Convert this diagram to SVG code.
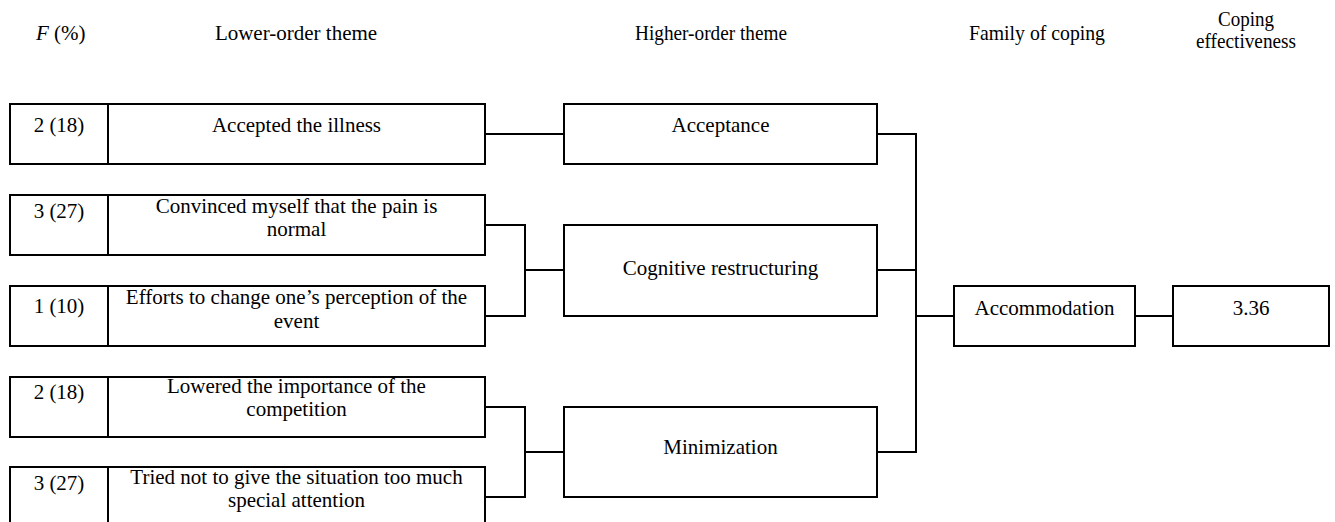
<svg xmlns="http://www.w3.org/2000/svg" width="1335" height="522" viewBox="0 0 1335 522">
<style>
text{font-family:"Liberation Serif","Times New Roman",serif;font-size:21px;fill:#000;text-anchor:middle}
.hd{font-size:21px}
.box{fill:#fff;stroke:#000;stroke-width:2}
.ln{fill:none;stroke:#000;stroke-width:2}
</style>
<rect width="1335" height="522" fill="#fff"/>
<g id="headers">
<text x="36" y="40" style="text-anchor:start"><tspan font-style="italic">F</tspan> (%)</text>
<text x="296" y="40">Lower-order theme</text>
<text x="711" y="40" textLength="152" lengthAdjust="spacingAndGlyphs">Higher-order theme</text>
<text x="1037" y="40" textLength="136" lengthAdjust="spacingAndGlyphs">Family of coping</text>
<text x="1246" y="26" textLength="56" lengthAdjust="spacingAndGlyphs">Coping</text>
<text x="1246" y="48" textLength="100" lengthAdjust="spacingAndGlyphs">effectiveness</text>
</g>
<g id="connectors">
<path class="ln" d="M485,134H564"/>
<path class="ln" d="M485,225H525V316H485M525,270H564"/>
<path class="ln" d="M485,407H525V497H485M525,452H564"/>
<path class="ln" d="M877,134H916V452H877M877,270H916M916,316H954"/>
<path class="ln" d="M1135,316H1173"/>
</g>
<g id="lo1">
<rect class="box" x="10" y="104" width="475" height="60"/>
<line class="ln" x1="108" y1="104" x2="108" y2="164"/>
<text x="59" y="132">2 (18)</text>
<text x="296.5" y="132">Accepted the illness</text>
</g>
<g id="lo2">
<rect class="box" x="10" y="195" width="475" height="60"/>
<line class="ln" x1="108" y1="195" x2="108" y2="255"/>
<text x="59" y="218">3 (27)</text>
<text x="296.5" y="213">Convinced myself that the pain is</text>
<text x="296.5" y="236">normal</text>
</g>
<g id="lo3">
<rect class="box" x="10" y="286" width="475" height="60"/>
<line class="ln" x1="108" y1="286" x2="108" y2="346"/>
<text x="59" y="313">1 (10)</text>
<text x="296.5" y="304">Efforts to change one’s perception of the</text>
<text x="296.5" y="328">event</text>
</g>
<g id="lo4">
<rect class="box" x="10" y="377" width="475" height="60"/>
<line class="ln" x1="108" y1="377" x2="108" y2="437"/>
<text x="59" y="399">2 (18)</text>
<text x="296.5" y="393">Lowered the importance of the</text>
<text x="296.5" y="416">competition</text>
</g>
<g id="lo5">
<rect class="box" x="10" y="467" width="475" height="62"/>
<line class="ln" x1="108" y1="467" x2="108" y2="529"/>
<text x="59" y="490">3 (27)</text>
<text x="296.5" y="484">Tried not to give the situation too much</text>
<text x="296.5" y="507">special attention</text>
</g>
<g id="acceptance">
<rect class="box" x="564" y="104" width="313" height="60"/>
<text x="720.5" y="132">Acceptance</text>
</g>
<g id="cognitive">
<rect class="box" x="564" y="225" width="313" height="91"/>
<text x="720.5" y="275">Cognitive restructuring</text>
</g>
<g id="minimization">
<rect class="box" x="564" y="407" width="313" height="90"/>
<text x="720.5" y="454">Minimization</text>
</g>
<g id="accommodation">
<rect class="box" x="954" y="286" width="181" height="60"/>
<text x="1044.5" y="315">Accommodation</text>
</g>
<g id="effectiveness">
<rect class="box" x="1173" y="286" width="156" height="60"/>
<text x="1251" y="315">3.36</text>
</g>
</svg>
